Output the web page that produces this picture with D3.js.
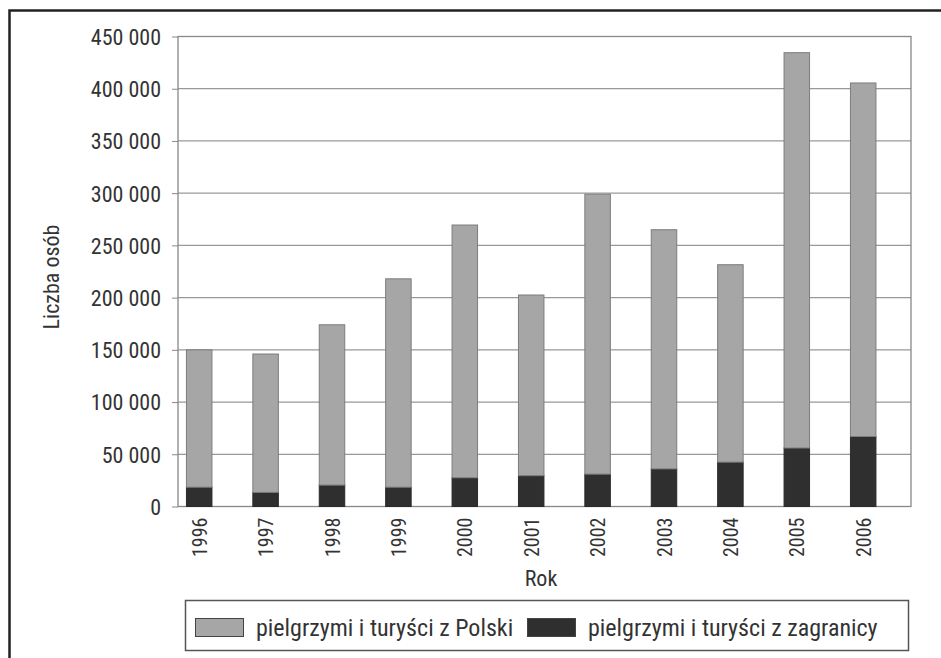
<!DOCTYPE html>
<html>
<head>
<meta charset="utf-8">
<script src="https://cdn.jsdelivr.net/npm/d3@7"></script>
<style>
  body { margin: 0; background: #fff; }
  svg text { font-family: "Liberation Sans Narrow", "Arial Narrow", "Roboto Condensed", sans-serif; fill: #333; }
</style>
</head>
<body>
<div id="chart"></div>
<script>
// Data
var years = ["1996", "1997", "1998", "1999", "2000", "2001", "2002", "2003", "2004", "2005", "2006"];
var fromPoland = [131500, 132500, 153500, 199500, 242000, 173000, 268000, 229000, 189000, 378500, 338500];
var fromAbroad = [18500, 13500, 20500, 18500, 27500, 29500, 31000, 36000, 42500, 56000, 67000];
var yTicks = [0, 50000, 100000, 150000, 200000, 250000, 300000, 350000, 400000, 450000];
var seriesNames = ["pielgrzymi i turyści z Polski", "pielgrzymi i turyści z zagranicy"];

var totWidth = 941,
    totHeight = 658;
var plot = {left: 178, right: 911, top: 36.5, bottom: 506.5};

var svg = d3.select("#chart")
  .append("svg")
    .attr("width", totWidth)
    .attr("height", totHeight);

// outer frame (cut off on the right and bottom)
svg.append("rect")
  .attr("x", 9.5).attr("y", 10.5)
  .attr("width", 1000).attr("height", 700)
  .attr("fill", "none")
  .attr("stroke", "#222")
  .attr("stroke-width", 2.5);

var x = d3.scaleBand()
  .domain(years)
  .range([166, 896.4])
  .paddingInner(0.616)
  .paddingOuter(0.308);

var y = d3.scaleLinear()
  .domain([0, 450000])
  .range([plot.bottom, plot.top]);

// grid lines
svg.append("g")
  .selectAll("line")
  .data(yTicks)
  .enter()
  .append("line")
    .attr("x1", plot.left)
    .attr("x2", plot.right)
    .attr("y1", function(d) { return y(d); })
    .attr("y2", function(d) { return y(d); })
    .attr("stroke", "#999")
    .attr("stroke-width", 1.2);

// y axis with ticks and labels
var fmt = function(d) { return d3.format(",")(d).replace(/,/g, " "); };
var yAxis = svg.append("g")
  .attr("transform", "translate(" + plot.left + ",0)")
  .call(d3.axisLeft(y).tickValues(yTicks).tickFormat(fmt).tickSize(6).tickPadding(11));
yAxis.select(".domain").remove();
yAxis.selectAll(".tick line").attr("stroke", "#888");
yAxis.selectAll(".tick text")
  .style("font-size", "22px")
  .attr("dy", "0.36em");

// plot frame
svg.append("rect")
  .attr("x", plot.left).attr("y", plot.top)
  .attr("width", plot.right - plot.left)
  .attr("height", plot.bottom - plot.top)
  .attr("fill", "none")
  .attr("stroke", "#888")
  .attr("stroke-width", 1.3);

// stacked bars
var table = years.map(function(yr, i) {
  return {year: yr, abroad: fromAbroad[i], poland: fromPoland[i]};
});
var stacked = d3.stack().keys(["abroad", "poland"])(table);
var fills = {abroad: "#2f2f2f", poland: "#a6a6a6"};
var strokes = {abroad: "#2a2a2a", poland: "#7c7c7c"};

svg.append("g")
  .selectAll("g")
  .data(stacked)
  .enter()
  .append("g")
    .attr("fill", function(d) { return fills[d.key]; })
    .attr("stroke", function(d) { return strokes[d.key]; })
  .selectAll("rect")
  .data(function(d) { return d; })
  .enter()
  .append("rect")
    .attr("x", function(d) { return x(d.data.year); })
    .attr("width", x.bandwidth())
    .attr("y", function(d) { return y(d[1]); })
    .attr("height", function(d) { return y(d[0]) - y(d[1]); })
    .attr("stroke-width", 1);

// x labels, rotated
svg.append("g")
  .selectAll("text")
  .data(years)
  .enter()
  .append("text")
    .attr("transform", function(d) {
      return "translate(" + (x(d) + x.bandwidth() / 2 + 7.5) + "," + (plot.bottom + 11) + ") rotate(-90)";
    })
    .attr("text-anchor", "end")
    .style("font-size", "20px")
    .text(function(d) { return d; });

// axis titles
svg.append("text")
  .attr("x", 541)
  .attr("y", 586)
  .attr("text-anchor", "middle")
  .style("font-size", "22px")
  .text("Rok");

svg.append("text")
  .attr("transform", "translate(59,277) rotate(-90)")
  .attr("text-anchor", "middle")
  .style("font-size", "22px")
  .text("Liczba osób");

// legend
var legend = svg.append("g");
legend.append("rect")
  .attr("x", 185.5).attr("y", 600.5)
  .attr("width", 723).attr("height", 50)
  .attr("fill", "#fff")
  .attr("stroke", "#555")
  .attr("stroke-width", 1.5);

var legendItems = [
  {name: seriesNames[0], key: "poland", sx: 195, tx: 256},
  {name: seriesNames[1], key: "abroad", sx: 527, tx: 588}
];
legendItems.forEach(function(it) {
  legend.append("rect")
    .attr("x", it.sx + 0.5).attr("y", 618.5)
    .attr("width", 48).attr("height", 18)
    .attr("fill", fills[it.key])
    .attr("stroke", "#444")
    .attr("stroke-width", 1);
  legend.append("text")
    .attr("x", it.tx)
    .attr("y", 636)
    .style("font-size", "24px")
    .text(it.name);
});
</script>
</body>
</html>
